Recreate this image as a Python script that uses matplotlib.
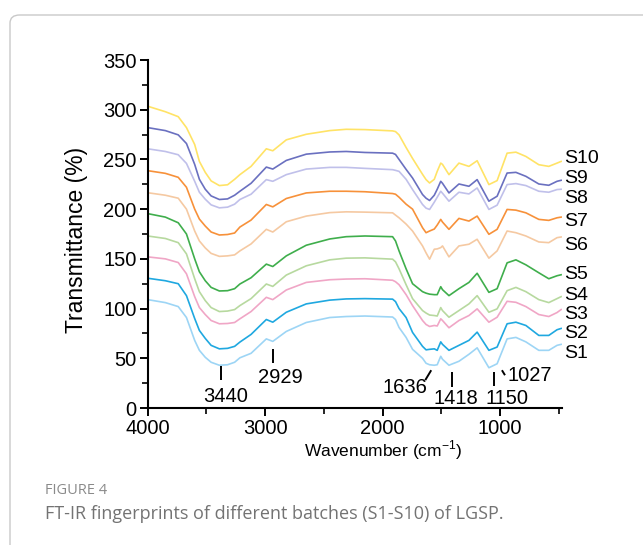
import matplotlib
matplotlib.use("Agg")
import matplotlib.pyplot as plt
from matplotlib.patches import FancyBboxPatch
from matplotlib.ticker import MultipleLocator, FixedLocator

plt.rcParams['font.family'] = 'Liberation Sans'
plt.rcParams['mathtext.fontset'] = 'custom'
plt.rcParams['mathtext.rm'] = 'Liberation Sans'

# wavenumber grid (cm-1)
wavenumber = [4000, 3850, 3740, 3670, 3600, 3560, 3510, 3460, 3390, 3320, 3260, 3215, 3120,
              2990, 2935, 2820, 2650, 2450, 2310, 2150, 1915, 1890, 1860, 1800, 1745, 1660,
              1630, 1600, 1560, 1535, 1505, 1490, 1435, 1350, 1265, 1195, 1095, 1025, 940,
              865, 780, 670, 585, 515, 480]

s1 = [109, 106, 102, 91, 68, 58, 51, 46, 43, 43.5, 46, 50.5, 55, 69.5, 67, 77, 86, 91, 92,
      92.5, 91.5, 89, 81, 71, 59, 50, 45, 43.5, 43, 43.5, 52, 49, 43, 47, 54, 60.5, 40.5,
      44.5, 69.5, 71, 66.5, 58, 58, 63, 64]
s2 = [130.5, 128, 125, 113, 90, 78, 70, 63, 59.5, 60, 62, 66.3, 74, 89, 86.3, 96.3, 104.7,
      108.5, 109.7, 110, 109.5, 107, 100, 91, 76, 62, 58.5, 59, 59.5, 58, 66.5, 64, 58, 63,
      68, 76.3, 58, 61.3, 84.7, 86.3, 83, 73, 73, 78.7, 80]
s3 = [152, 150, 146.3, 135, 112, 101, 94, 88, 84.7, 85, 86, 89.7, 97, 111.3, 109, 118.7,
      126.3, 129, 129.7, 130, 128.5, 127, 124, 114, 103, 88, 84, 82, 83, 82.5, 89.7, 88,
      80.7, 88, 93, 99.7, 86.3, 91.3, 107.3, 106.3, 102, 94, 92, 96, 99]
s4 = [173, 170.5, 166.3, 155, 130, 117, 108, 101, 97, 97.5, 99, 103, 110, 124.7, 122.3,
      133.7, 143, 149, 150.7, 151, 149.7, 147, 140, 124, 110, 98, 95.5, 93.5, 93, 92.5, 101,
      98, 91.3, 98, 104.7, 113, 96.3, 99.7, 118, 121.3, 117, 109, 106, 110, 112]
s5 = [195.5, 192, 186.3, 175, 150, 137, 128, 121.3, 117.7, 118, 120, 124.7, 131, 144.7, 142.3,
      153, 163.7, 170, 172.3, 173, 172.3, 168, 158, 140, 125, 117, 115.5, 114.5, 114, 114,
      122, 119, 113, 120, 126.3, 135.5, 116.3, 120, 146, 149, 144, 136, 130, 133, 134]
s6 = [216.5, 214, 211, 200, 178, 168, 161, 155.5, 152.5, 153, 154, 158, 165, 179.7, 177,
      187.3, 193, 196.5, 197.3, 197, 196.3, 194, 191.3, 185, 178, 163, 156, 149.7, 159.7, 160,
      161.3, 163, 152, 163, 164.7, 169.7, 150.7, 158, 178, 176.3, 173, 167, 166.3, 171.3, 172]
s7 = [238.7, 236, 232, 222, 200, 190, 183, 177, 174, 174.5, 176, 182, 189, 204.7, 202.3,
      210.7, 216.3, 218, 218, 217.5, 215.7, 215, 212, 205, 200, 181.3, 176.3, 178, 180, 184,
      189.7, 187, 179.7, 190.7, 188, 193, 174.7, 179.7, 199.7, 199, 196.3, 189.7, 188.7,
      191.3, 192]
s8 = [260.7, 258, 254.7, 246, 228, 217, 210, 204.3, 201.3, 202, 205, 209.7, 215, 229.7, 228,
      234.7, 240.3, 242, 242, 241, 239.7, 239, 238, 230, 219.7, 204.7, 201, 199.7, 207, 212,
      218, 216, 208, 217, 215.3, 221.3, 199.7, 204, 224.7, 225.7, 223.7, 218, 217, 219.7, 220]
s9 = [282, 279, 274.7, 266, 245, 230, 220, 213.3, 209.7, 210.3, 214, 218, 226, 242.3, 240.3,
      249, 255.3, 257.5, 258, 257, 256.3, 255, 250, 240, 231.3, 214.7, 211, 208.7, 214, 220,
      228, 226, 216.3, 225.3, 223, 229.7, 208, 213, 236.3, 237, 233, 225.3, 224, 228, 229]
s10 = [303.5, 298, 293, 282, 265, 248, 237, 228.4, 223.7, 224.5, 230, 234.7, 243, 260.7, 258.7,
       269.7, 275.3, 279, 280.3, 280, 278.7, 278, 274.7, 262, 251, 235, 229.7, 226.3, 230, 238,
       246.3, 245, 234.7, 246.3, 243, 248.7, 224.7, 228.7, 256.3, 257.3, 253, 244.7, 243,
       246.3, 248]

series = [s1, s2, s3, s4, s5, s6, s7, s8, s9, s10]
names = ['S1', 'S2', 'S3', 'S4', 'S5', 'S6', 'S7', 'S8', 'S9', 'S10']
colors = ['#9dd5f5', '#1fa8e0', '#f0a6c6', '#b7d99f', '#3fae4c',
          '#f5c9a2', '#f7913a', '#c0c0ea', '#6a70c0', '#ffe366']
# where the series names sit (value axis)
name_y = [55, 75, 94, 113, 134, 163, 188, 211, 231, 251]

peaks = ['3440', '2929', '1636', '1418', '1150', '1027']

fig = plt.figure(figsize=(6.43, 5.45), dpi=100)

# outer frame of the figure panel
frame = FancyBboxPatch((10 / 643, -0.2), 1.2, 1 - 15 / 545 + 0.2,
                       boxstyle="round,pad=0,rounding_size=0.015",
                       transform=fig.transFigure, fill=False,
                       edgecolor='#c9c9c9', lw=1.0)
fig.add_artist(frame)

ax = fig.add_axes([147.7 / 643, 1 - 408 / 545, 414.6 / 643, 348 / 545])

for ys, c in zip(series, colors):
    ax.plot(wavenumber, ys, color=c, lw=1.2, solid_joinstyle='round')

for n, yy in zip(names, name_y):
    ax.text(455, yy, n, fontsize=14, ha='left', va='center', clip_on=False)

# peak markers
mark_lines = [((3374, 3374), (42, 28)), ((2930, 2930), (59, 45)), ((1637, 1586), (28, 38)),
              ((1411, 1411), (36, 21)), ((1055, 1055), (36, 22)), ((984, 958), (38, 33))]
mark_text = [(3339, 12), (2871, 31), (1806, 21), (1375, 10), (943, 10), (745, 33)]
for lab, (lx, ly), (tx, ty) in zip(peaks, mark_lines, mark_text):
    ax.plot(lx, ly, color='black', lw=1.4, solid_capstyle='butt')
    ax.text(tx, ty, lab, fontsize=14.5, ha='center', va='center')

ax.set_xlim(4000, 470)
ax.set_ylim(0, 350)
ax.xaxis.set_major_locator(FixedLocator([4000, 3000, 2000, 1000]))
ax.xaxis.set_minor_locator(FixedLocator([3500, 2500, 1500, 500]))
ax.yaxis.set_major_locator(MultipleLocator(50))
ax.yaxis.set_minor_locator(MultipleLocator(25))

for side in ['top', 'right']:
    ax.spines[side].set_visible(False)
for side in ['left', 'bottom']:
    ax.spines[side].set_linewidth(1.5)

ax.tick_params(which='major', direction='out', length=6, width=1.4, labelsize=14.5, pad=2)
ax.tick_params(which='minor', direction='out', length=4, width=1.2)

fig.text(76 / 643, 1 - 240 / 545, 'Transmittance (%)', rotation=90,
         ha='center', va='center', fontsize=16.5)
fig.text(383 / 643, 1 - 450 / 545, 'Wavenumber (cm$^{-1}$)',
         ha='center', va='center', fontsize=12.5)

fig.text(45 / 643, 1 - 490 / 545, 'FIGURE 4', fontsize=10.5, color='#8a8a8a',
         family='Open Sans', va='center')
fig.text(45 / 643, 1 - 514 / 545, 'FT-IR fingerprints of different batches (S1-S10) of LGSP.',
         fontsize=13, color='#737373', family='Open Sans', va='center')

fig.savefig('out.png', dpi=100)
plt.close(fig)
